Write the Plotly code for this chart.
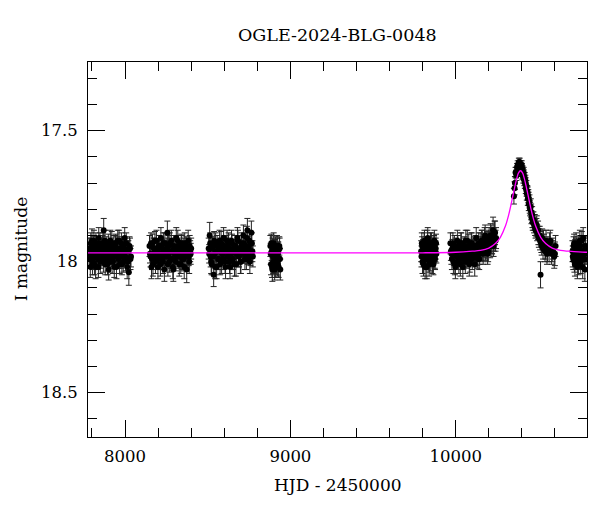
import plotly.graph_objects as go

# season 1
t1 = [7782, 7788, 7793, 7798, 7803, 7807, 7812, 7817, 7822, 7826, 7831, 7836, 7841, 7846, 7850, 7855, 7861,
      7866, 7871, 7876, 7880, 7886, 7891, 7896, 7901, 7906, 7911, 7917, 7922, 7927, 7932, 7938, 7943, 7948,
      7953, 7959, 7964, 7970, 7975, 7981, 7986, 7992, 7998, 8004, 8010, 8017, 8023, 8030, 8036,
      7785, 7790, 7796, 7800, 7805, 7810, 7815, 7819, 7824, 7829, 7834, 7839, 7844, 7848, 7853, 7858, 7864,
      7869, 7874, 7878, 7883, 7889, 7894, 7899, 7904, 7909, 7914, 7920, 7925, 7930, 7935, 7941, 7946, 7951,
      7956, 7962, 7967, 7973, 7978, 7984, 7989, 7995, 8001, 8007, 8013, 8020, 8027, 8033]
m1 = [17.95, 17.99, 17.93, 17.97, 18.01, 17.96, 17.92, 17.98, 18.02, 17.94, 17.97, 17.99, 17.91, 17.96, 18.00,
      17.95, 17.98, 17.93, 17.88, 17.97, 18.01, 17.94, 17.96, 17.99, 18.03, 17.95, 17.92, 17.98, 17.96, 18.00,
      17.94, 17.97, 17.93, 18.02, 17.96, 17.99, 17.92, 17.95, 17.98, 18.01, 17.94, 17.97, 17.91, 17.99, 17.96,
      18.00, 18.04, 17.95, 17.98,
      17.97, 18.02, 17.95, 17.92, 17.99, 17.94, 18.01, 17.96, 17.93, 17.98, 17.95, 18.02, 17.97, 17.93, 17.99,
      17.96, 17.94, 18.00, 17.95, 17.92, 17.98, 17.96, 18.01, 17.93, 17.97, 18.00, 17.95, 17.93, 17.99, 17.96,
      18.02, 17.94, 17.98, 17.95, 17.92, 17.97, 18.01, 17.96, 17.93, 17.97, 18.00, 17.95, 17.98, 17.93, 18.02,
      17.96, 17.94, 17.99]
e1 = [0.04, 0.035, 0.04, 0.045, 0.04, 0.035, 0.04, 0.04, 0.045, 0.035, 0.04, 0.04, 0.04, 0.035, 0.045,
      0.04, 0.035, 0.04, 0.045, 0.04, 0.04, 0.035, 0.04, 0.045, 0.04, 0.035, 0.04, 0.04, 0.035, 0.045,
      0.04, 0.04, 0.035, 0.045, 0.04, 0.035, 0.04, 0.04, 0.045, 0.04, 0.035, 0.04, 0.04, 0.045, 0.04,
      0.035, 0.05, 0.04, 0.04,
      0.035, 0.04, 0.04, 0.045, 0.04, 0.035, 0.04, 0.04, 0.04, 0.045, 0.035, 0.04, 0.04, 0.04, 0.035,
      0.045, 0.04, 0.04, 0.035, 0.04, 0.04, 0.045, 0.04, 0.035, 0.04, 0.04, 0.04, 0.045, 0.035, 0.04,
      0.04, 0.04, 0.035, 0.045, 0.04, 0.04, 0.035, 0.04, 0.04, 0.045, 0.04, 0.035, 0.04, 0.04, 0.045,
      0.04, 0.035, 0.04]

# season 2
t2 = [8148, 8154, 8160, 8166, 8172, 8178, 8184, 8190, 8196, 8202, 8208, 8214, 8220, 8226, 8232, 8238, 8244,
      8250, 8256, 8262, 8268, 8274, 8280, 8286, 8292, 8298, 8304, 8310, 8316, 8322, 8328, 8334, 8340, 8346,
      8352, 8358, 8364, 8370, 8376, 8382, 8388, 8394, 8400,
      8151, 8157, 8163, 8169, 8175, 8181, 8187, 8193, 8199, 8205, 8211, 8217, 8223, 8229, 8235, 8241, 8247,
      8253, 8259, 8265, 8271, 8277, 8283, 8289, 8295, 8301, 8307, 8313, 8319, 8325, 8331, 8337, 8343, 8349,
      8355, 8361, 8367, 8373, 8379, 8385, 8391, 8397]
m2 = [17.94, 17.98, 18.02, 17.93, 17.97, 17.95, 18.00, 17.92, 17.96, 17.99, 17.94, 18.01, 17.97, 17.95, 17.93,
      18.03, 17.96, 17.98, 17.89, 17.94, 18.00, 17.96, 17.92, 17.99, 18.03, 17.95, 17.97, 17.91, 17.98, 17.94,
      18.01, 17.96, 17.93, 17.99, 17.95, 18.02, 17.97, 17.94, 17.98, 17.92, 18.00, 17.96, 17.95,
      17.97, 17.93, 17.99, 18.01, 17.95, 17.92, 17.98, 17.96, 18.02, 17.94, 17.97, 17.91, 17.99, 18.00, 17.96,
      17.93, 17.98, 17.95, 18.01, 17.97, 17.93, 17.99, 17.96, 18.02, 17.94, 17.97, 18.00, 17.95, 17.92, 17.98,
      17.96, 18.01, 17.94, 17.97, 17.99, 17.93, 17.96, 18.03, 17.95, 17.98, 17.94, 17.97]
e2 = [0.04, 0.04, 0.045, 0.035, 0.04, 0.04, 0.045, 0.04, 0.035, 0.04, 0.04, 0.045, 0.04, 0.035, 0.04,
      0.045, 0.04, 0.04, 0.045, 0.04, 0.04, 0.035, 0.04, 0.045, 0.045, 0.04, 0.035, 0.04, 0.04, 0.04,
      0.045, 0.04, 0.035, 0.04, 0.04, 0.045, 0.04, 0.035, 0.04, 0.04, 0.045, 0.04, 0.04,
      0.035, 0.04, 0.04, 0.045, 0.04, 0.035, 0.04, 0.04, 0.045, 0.04, 0.035, 0.04, 0.04, 0.045, 0.04,
      0.04, 0.035, 0.04, 0.045, 0.04, 0.04, 0.035, 0.04, 0.045, 0.04, 0.04, 0.035, 0.04, 0.04, 0.045,
      0.04, 0.035, 0.04, 0.04, 0.045, 0.04, 0.04, 0.05, 0.04, 0.035, 0.04, 0.04]

# season 3
t3 = [8506, 8512, 8518, 8524, 8530, 8536, 8542, 8548, 8554, 8560, 8566, 8572, 8578, 8584, 8590, 8596, 8602,
      8608, 8614, 8620, 8626, 8632, 8638, 8644, 8650, 8656, 8662, 8668, 8674, 8680, 8686, 8692, 8698, 8704,
      8710, 8716, 8722, 8728, 8734, 8740, 8746, 8752, 8758, 8764, 8770,
      8509, 8515, 8521, 8527, 8533, 8539, 8545, 8551, 8557, 8563, 8569, 8575, 8581, 8587, 8593, 8599, 8605,
      8611, 8617, 8623, 8629, 8635, 8641, 8647, 8653, 8659, 8665, 8671, 8677, 8683, 8689, 8695, 8701, 8707,
      8713, 8719, 8725, 8731, 8737, 8743, 8749, 8755, 8761, 8767, 8773]
m3 = [17.95, 17.90, 17.98, 18.01, 17.94, 18.05, 17.97, 17.93, 18.02, 17.96, 17.99, 17.92, 17.95, 18.00, 17.97,
      17.91, 17.96, 18.02, 17.94, 17.98, 17.93, 18.00, 17.96, 17.92, 17.99, 17.95, 18.01, 17.94, 17.97, 17.91,
      17.98, 17.95, 18.00, 17.93, 17.96, 17.90, 17.97, 17.94, 17.99, 17.88, 17.95, 17.92, 17.98, 17.89, 17.96,
      17.97, 17.93, 18.00, 17.95, 17.98, 17.92, 18.02, 17.96, 17.94, 17.99, 17.95, 18.01, 17.93, 17.97, 17.99,
      17.94, 18.00, 17.96, 17.92, 17.98, 17.95, 18.02, 17.97, 17.93, 17.99, 17.96, 17.94, 18.01, 17.95, 17.92,
      17.98, 17.96, 18.00, 17.94, 17.97, 17.93, 17.99, 17.95, 17.91, 17.97, 17.94, 18.00, 17.96, 17.93, 17.98]
e3 = [0.04, 0.05, 0.04, 0.04, 0.035, 0.045, 0.04, 0.04, 0.045, 0.035, 0.04, 0.04, 0.04, 0.045, 0.035,
      0.04, 0.04, 0.045, 0.04, 0.035, 0.04, 0.045, 0.04, 0.04, 0.04, 0.035, 0.045, 0.04, 0.04, 0.04,
      0.04, 0.035, 0.045, 0.04, 0.04, 0.04, 0.035, 0.04, 0.04, 0.045, 0.04, 0.04, 0.035, 0.045, 0.04,
      0.035, 0.04, 0.045, 0.04, 0.04, 0.035, 0.045, 0.04, 0.04, 0.04, 0.035, 0.04, 0.045, 0.04, 0.04,
      0.04, 0.045, 0.035, 0.04, 0.04, 0.04, 0.045, 0.04, 0.035, 0.04, 0.04, 0.04, 0.045, 0.035, 0.04,
      0.04, 0.04, 0.045, 0.04, 0.035, 0.04, 0.04, 0.04, 0.045, 0.04, 0.035, 0.045, 0.04, 0.04, 0.04]

# season 4
t4 = [8879, 8883, 8887, 8891, 8895, 8899, 8903, 8907, 8911, 8915, 8919, 8923, 8927, 8931, 8935, 8939,
      8881, 8885, 8889, 8893, 8897, 8901, 8905, 8909, 8913, 8917, 8921, 8925, 8929, 8933, 8937]
m4 = [17.94, 18.01, 17.96, 18.03, 17.98, 17.93, 18.00, 17.95, 18.02, 17.97, 17.94, 18.01, 17.96, 17.99, 17.95,
      18.03,
      17.97, 17.93, 18.02, 17.95, 18.00, 17.96, 18.03, 17.94, 17.98, 18.01, 17.95, 17.97, 18.02, 17.94, 17.99]
e4 = [0.04, 0.04, 0.035, 0.045, 0.04, 0.04, 0.04, 0.035, 0.04, 0.04, 0.04, 0.045, 0.035, 0.04, 0.04, 0.04,
      0.04, 0.035, 0.04, 0.04, 0.045, 0.04, 0.04, 0.035, 0.04, 0.04, 0.04, 0.045, 0.04, 0.035, 0.04]

# season 5
t5 = [9791, 9795, 9799, 9803, 9807, 9811, 9815, 9819, 9823, 9827, 9831, 9835, 9839, 9843, 9847, 9851, 9855,
      9859, 9863, 9867, 9871, 9875, 9879, 9883,
      9793, 9797, 9801, 9805, 9809, 9813, 9817, 9821, 9825, 9829, 9833, 9837, 9841, 9845, 9849, 9853, 9857,
      9861, 9865, 9869, 9873, 9877, 9881]
m5 = [17.96, 17.93, 18.00, 17.95, 17.98, 17.92, 18.02, 17.96, 17.94, 17.99, 17.91, 17.97, 18.01, 17.95, 17.93,
      17.98, 17.96, 18.00, 17.94, 17.97, 17.92, 17.99, 17.95, 17.97,
      17.98, 17.94, 17.97, 18.01, 17.93, 17.96, 17.99, 17.95, 18.02, 17.92, 17.97, 17.94, 18.00, 17.96, 17.99,
      17.93, 17.97, 17.95, 18.01, 17.94, 17.98, 17.96, 17.93]
e5 = [0.04, 0.04, 0.045, 0.035, 0.04, 0.04, 0.045, 0.04, 0.035, 0.04, 0.04, 0.04, 0.045, 0.035, 0.04,
      0.04, 0.04, 0.045, 0.04, 0.035, 0.04, 0.04, 0.04, 0.035,
      0.04, 0.035, 0.04, 0.045, 0.04, 0.04, 0.035, 0.04, 0.045, 0.04, 0.04, 0.035, 0.04, 0.04, 0.045,
      0.04, 0.035, 0.04, 0.04, 0.04, 0.045, 0.04, 0.035]

# season 6
t6 = [9968, 9974, 9980, 9986, 9992, 9998, 10004, 10010, 10016, 10022, 10028, 10034, 10040, 10046, 10052, 10058,
      10064, 10070, 10076, 10082, 10088, 10094, 10100, 10106, 10112, 10118, 10124, 10130, 10136, 10142, 10148,
      10154, 10160, 10166, 10172, 10178, 10184, 10190, 10196, 10202, 10208, 10214, 10220, 10226, 10232, 10238,
      10244,
      9971, 9977, 9983, 9989, 9995, 10001, 10007, 10013, 10019, 10025, 10031, 10037, 10043, 10049, 10055, 10061,
      10067, 10073, 10079, 10085, 10091, 10097, 10103, 10109, 10115, 10121, 10127, 10133, 10139, 10145, 10151,
      10157, 10163, 10169, 10175, 10181, 10187, 10193, 10199, 10205, 10211, 10217, 10223, 10229, 10235, 10241]
m6 = [17.93, 17.97, 17.95, 18.00, 17.94, 18.02, 17.96, 17.92, 17.99, 17.95, 18.01, 17.93, 17.97, 17.99, 17.94,
      18.00, 17.96, 17.92, 17.98, 18.01, 17.95, 17.93, 17.99, 17.96, 17.94, 17.98, 17.91, 17.97, 17.95, 17.99,
      17.93, 17.96, 17.92, 17.97, 17.94, 17.90, 17.95, 17.92, 17.96, 17.91, 17.94, 17.90, 17.93, 17.88, 17.92,
      17.89, 17.91,
      17.96, 17.99, 17.93, 17.97, 18.01, 17.95, 17.98, 17.94, 18.00, 17.96, 17.93, 17.98, 18.02, 17.95, 17.97,
      17.92, 17.99, 17.96, 17.94, 18.00, 17.97, 17.93, 17.98, 17.95, 18.01, 17.94, 17.96, 17.99, 17.93, 17.97,
      17.95, 17.92, 17.96, 17.94, 17.91, 17.95, 17.93, 17.97, 17.92, 17.94, 17.90, 17.93, 17.91, 17.94, 17.89,
      17.92]
e6 = [0.04, 0.04, 0.035, 0.045, 0.04, 0.045, 0.04, 0.04, 0.04, 0.035, 0.045, 0.04, 0.04, 0.04, 0.035,
      0.045, 0.04, 0.04, 0.04, 0.045, 0.035, 0.04, 0.04, 0.04, 0.035, 0.04, 0.04, 0.045, 0.04, 0.04,
      0.04, 0.035, 0.04, 0.04, 0.045, 0.04, 0.04, 0.035, 0.04, 0.04, 0.045, 0.04, 0.04, 0.05, 0.04,
      0.045, 0.04,
      0.035, 0.04, 0.04, 0.045, 0.04, 0.04, 0.035, 0.04, 0.045, 0.04, 0.04, 0.035, 0.045, 0.04, 0.04,
      0.04, 0.035, 0.04, 0.045, 0.04, 0.04, 0.04, 0.035, 0.04, 0.045, 0.04, 0.04, 0.035, 0.04, 0.04,
      0.045, 0.04, 0.04, 0.035, 0.04, 0.045, 0.04, 0.04, 0.04, 0.035, 0.045, 0.04, 0.04, 0.04, 0.045,
      0.04]

# season 7 (event)
t7 = [10352, 10358, 10362, 10367, 10371, 10375, 10378, 10382, 10385, 10388, 10391, 10394, 10397, 10400, 10403,
      10406, 10409, 10412, 10415, 10418, 10421, 10424, 10427, 10430, 10433, 10436, 10439, 10442, 10446, 10450,
      10454, 10458, 10462, 10466, 10470, 10474, 10478, 10483, 10488, 10493, 10498, 10503, 10508, 10513, 10518,
      10523, 10528, 10534, 10540, 10546, 10552, 10558, 10565, 10572, 10580, 10588, 10596, 10604,
      10356, 10365, 10373, 10380, 10387, 10393, 10399, 10405, 10411, 10417, 10423, 10429, 10435, 10441, 10448,
      10456, 10464, 10472, 10480, 10490, 10500, 10510, 10520, 10531, 10543, 10555, 10568, 10584, 10600]
m7 = [17.75, 17.70, 17.66, 17.67, 17.64, 17.63, 17.65, 17.62, 17.64, 17.63, 17.66, 17.63, 17.65, 17.64, 17.67,
      17.66, 17.68, 17.67, 17.69, 17.70, 17.69, 17.72, 17.71, 17.74, 17.73, 17.76, 17.75, 17.78, 17.77, 17.80,
      17.79, 17.83, 17.82, 17.85, 17.84, 17.86, 17.85, 17.88, 17.87, 17.89, 17.88, 17.91, 17.90, 18.05, 17.93,
      17.91, 17.95, 17.93, 17.96, 17.92, 17.97, 17.94, 17.96, 17.92, 17.97, 17.95, 17.98, 17.94,
      17.72, 17.66, 17.65, 17.64, 17.62, 17.64, 17.63, 17.65, 17.66, 17.68, 17.70, 17.73, 17.74, 17.76, 17.79,
      17.81, 17.84, 17.85, 17.87, 17.86, 17.90, 17.92, 17.94, 17.92, 17.95, 17.96, 17.93, 17.96, 17.97]
e7 = [0.03, 0.025, 0.02, 0.02, 0.015, 0.015, 0.015, 0.015, 0.015, 0.015, 0.015, 0.015, 0.015, 0.015, 0.015,
      0.015, 0.02, 0.02, 0.02, 0.02, 0.02, 0.02, 0.02, 0.025, 0.02, 0.025, 0.025, 0.025, 0.025, 0.025,
      0.03, 0.025, 0.03, 0.03, 0.03, 0.03, 0.03, 0.03, 0.035, 0.03, 0.035, 0.035, 0.035, 0.05, 0.035,
      0.035, 0.04, 0.035, 0.04, 0.04, 0.04, 0.035, 0.04, 0.04, 0.04, 0.04, 0.045, 0.04,
      0.025, 0.02, 0.015, 0.015, 0.015, 0.015, 0.015, 0.015, 0.02, 0.02, 0.02, 0.02, 0.025, 0.025, 0.025,
      0.03, 0.03, 0.03, 0.03, 0.035, 0.035, 0.035, 0.035, 0.04, 0.04, 0.04, 0.04, 0.04, 0.045]

# season 8
t8 = [10706, 10711, 10716, 10721, 10726, 10731, 10736, 10741, 10746, 10751, 10756, 10761, 10766, 10771, 10776,
      10781, 10786,
      10708, 10713, 10718, 10723, 10728, 10733, 10738, 10743, 10748, 10753, 10758, 10763, 10768, 10773, 10778,
      10783, 10788]
m8 = [17.96, 17.99, 17.93, 18.01, 17.97, 17.95, 18.02, 17.94, 17.98, 17.92, 18.00, 17.96, 17.99, 17.91, 17.97,
      18.03, 17.95,
      17.98, 17.94, 18.00, 17.96, 17.93, 17.99, 17.95, 18.01, 17.97, 17.94, 17.98, 17.92, 18.02, 17.96, 17.99,
      17.94, 17.97]
e8 = [0.04, 0.04, 0.035, 0.045, 0.04, 0.04, 0.045, 0.035, 0.04, 0.04, 0.045, 0.04, 0.04, 0.04, 0.035,
      0.045, 0.04,
      0.04, 0.035, 0.04, 0.045, 0.04, 0.04, 0.035, 0.04, 0.045, 0.04, 0.04, 0.035, 0.045, 0.04, 0.04,
      0.035, 0.04]

# model curve
t_model = [7776, 9500, 9800, 10000, 10100, 10150, 10200, 10240, 10270, 10300, 10320, 10340, 10355, 10370,
           10380, 10392, 10404, 10414, 10429, 10444, 10464, 10484, 10514, 10544, 10584, 10634, 10684, 10784, 10794]
m_model = [17.966, 17.966, 17.966, 17.964, 17.960, 17.957, 17.948, 17.931, 17.907, 17.865, 17.822, 17.766,
           17.721, 17.680, 17.661, 17.653, 17.661, 17.680, 17.721, 17.766, 17.822, 17.865, 17.907, 17.931,
           17.948, 17.957, 17.960, 17.964, 17.964]

seasons = [(t1, m1, e1), (t2, m2, e2), (t3, m3, e3), (t4, m4, e4),
           (t5, m5, e5), (t6, m6, e6), (t7, m7, e7), (t8, m8, e8)]

font = "DejaVu Serif"

fig = go.Figure()
for t, m, e in seasons:
    fig.add_trace(go.Scatter(x=t, y=m, mode="markers",
                             marker=dict(color="black", size=6),
                             error_y=dict(type="data", array=e, color="#222222", thickness=1, width=3),
                             showlegend=False))

fig.add_trace(go.Scatter(x=t_model, y=m_model, mode="lines", line_shape="spline",
                         line=dict(color="#ff00ff", width=1.3), showlegend=False))

axis_common = dict(showgrid=False, zeroline=False, showline=True, linecolor="black", linewidth=1,
                   mirror="allticks", ticks="inside", tickcolor="black", ticklen=17, tickwidth=1,
                   automargin=False, tickfont=dict(family=font, size=16.5, color="black"))

fig.update_xaxes(range=[7776, 10794], dtick=1000, tick0=0, tickformat="d",
                 minor=dict(dtick=200, tick0=0, ticks="inside", ticklen=9, tickcolor="black"),
                 ticklabelstandoff=4, **axis_common)
fig.update_yaxes(range=[18.669, 17.238], dtick=0.5, tick0=0,
                 minor=dict(dtick=0.1, tick0=0, ticks="inside", ticklen=9, tickcolor="black"),
                 ticklabelstandoff=6, **axis_common)

# page body has an 8px margin, so the figure is a bit smaller than the window
fig.update_layout(
    width=592, height=504,
    margin=dict(l=80, r=13, t=54, b=75),
    plot_bgcolor="white", paper_bgcolor="white",
    font=dict(family=font, color="black"),
    annotations=[
        dict(text="OGLE-2024-BLG-0048", xref="paper", yref="paper", x=0.5, y=1.072,
             showarrow=False, font=dict(family=font, size=17.5), xanchor="center", yanchor="middle"),
        dict(text="HJD - 2450000", xref="paper", yref="paper", x=0.5, y=-0.129,
             showarrow=False, font=dict(family=font, size=17), xanchor="center", yanchor="middle"),
        dict(text="I magnitude", xref="paper", yref="paper", x=-0.135, y=0.5, textangle=-90,
             showarrow=False, font=dict(family=font, size=17), xanchor="center", yanchor="middle"),
    ],
)

fig.write_html("out.html")
